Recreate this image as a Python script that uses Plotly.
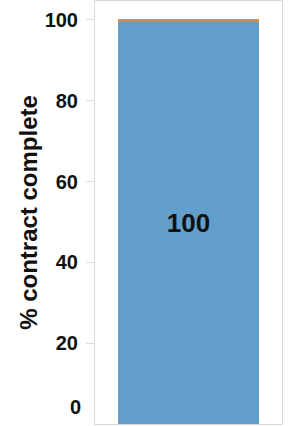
import plotly.graph_objects as go

categories = ["Contract"]
complete_values = [99.5]
remaining_values = [0.75]
label_values = ["100"]
tick_vals = [20, 40, 60, 80, 100]
tick_text = ["20", "40", "60", "80", "100"]

fig = go.Figure()
fig.add_trace(go.Bar(
    x=categories, y=complete_values, marker_color="#619fca",
    marker_line_width=0, text=["<b>%s</b>" % v for v in label_values],
    textposition="inside", insidetextanchor="middle",
    textfont=dict(family="Liberation Sans, Arial", size=26, color="#111111"),
    width=0.755,
))
fig.add_trace(go.Bar(
    x=categories, y=remaining_values, marker_color="#d98a45",
    marker_line_width=0, width=0.755, hoverinfo="skip",
))
fig.add_annotation(
    x=0, xref="paper", xanchor="right", xshift=-12,
    y=0, yref="y", yanchor="bottom", yshift=4,
    text="<b>0</b>", showarrow=False,
    font=dict(family="Liberation Sans, Arial", size=20, color="#111111"),
)
fig.update_layout(
    barmode="stack", showlegend=False,
    width=288, height=426,
    margin=dict(l=95, r=6, t=1, b=2, autoexpand=False),
    plot_bgcolor="white", paper_bgcolor="white",
    font=dict(family="Liberation Sans, Arial", color="#111111"),
    bargap=0.245,
)
fig.update_xaxes(
    showticklabels=False, showline=True, mirror=True, linecolor="#d9d9d9",
    linewidth=1, showgrid=False, ticks="", automargin=False,
)
fig.update_yaxes(
    range=[0, 104.7], tickvals=tick_vals, ticktext=["<b>%s</b>" % t for t in tick_text],
    tickfont=dict(size=20, family="Liberation Sans, Arial", color="#111111"),
    ticks="outside", ticklen=8, tickcolor="#d9d9d9", ticklabelstandoff=4,
    showline=True, mirror=True, linecolor="#d9d9d9", linewidth=1, showgrid=False,
    zeroline=False, automargin=False,
    title=dict(text="<b>% contract complete</b>", font=dict(size=24, family="Liberation Sans, Arial", color="#111111"), standoff=0),
)
fig.write_html("out.html", config={"displayModeBar": False},
               post_script="document.body.style.margin='0';document.body.style.overflow='hidden';")
